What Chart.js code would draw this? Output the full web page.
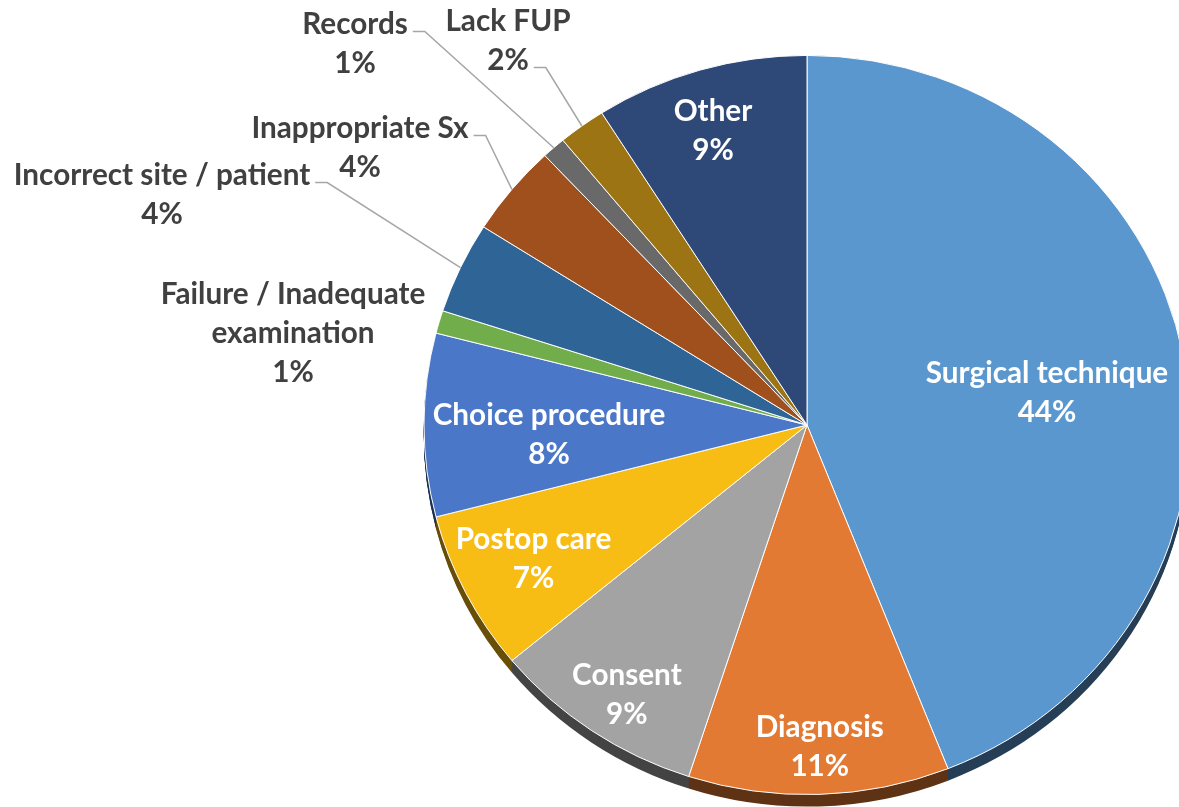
<!DOCTYPE html>
<html>
<head>
<meta charset="utf-8">
<script src="https://cdn.jsdelivr.net/npm/chart.js"></script>
<style>
  html, body { margin: 0; padding: 0; background: #fff; overflow: hidden; }
  #wrap { position: relative; width: 1210px; height: 807px; }
</style>
</head>
<body>
<div id="wrap"><canvas id="pie"></canvas></div>
<script>
// Data
const categories = ['Surgical technique', 'Diagnosis', 'Consent', 'Postop care', 'Choice procedure',
  'Failure / Inadequate\nexamination', 'Incorrect site / patient', 'Inappropriate Sx', 'Records', 'Lack FUP', 'Other'];
const shares = [44, 11, 9, 7, 8, 1, 4, 4, 1, 2, 9];
const sliceColors = ['#5B97CF', '#E27A33', '#A3A3A3', '#F8BD14', '#4A77C7', '#72AD4C',
  '#2F6496', '#A0501C', '#696969', '#9C7413', '#2E4878'];

// Look
const SQUASH = 0.965;   // tilt of the pie face
const DEPTH = 12;       // visible thickness of the 3D side
const FONT_PX = 29.7;
const LINE_H = 39;
const CAP = FONT_PX * 0.7165;

// label placement: inside = [radius fraction, angle tweak in deg]
const insideLayout = {
  0: [0.633, 2.7], 1: [0.869, -0.4], 2: [0.867, -1.35],
  3: [0.80, 0.2], 4: [0.674, -2.1], 10: [0.835, -0.9]
};
// outside = offset of text block from pie centre, hook = line the leader starts from
const outsideLayout = {
  5: { dx: -514, dy: -93, hook: null },
  6: { dx: -645, dy: -231, hook: 0 },
  7: { dx: -447, dy: -278, hook: 0 },
  8: { dx: -452, dy: -382, hook: 0 },
  9: { dx: -299, dy: -385, hook: 1 }
};

function darken(hex, f) {
  const n = parseInt(hex.slice(1), 16);
  const r = Math.round(((n >> 16) & 255) * f);
  const g = Math.round(((n >> 8) & 255) * f);
  const b = Math.round((n & 255) * f);
  return `rgb(${r},${g},${b})`;
}
const sideColors = sliceColors.map(c => darken(c, 0.42));

function squash(ctx, x, y) {
  ctx.translate(x, y);
  ctx.scale(1, SQUASH);
  ctx.translate(-x, -y);
}

function wedge(ctx, p) {
  ctx.beginPath();
  ctx.moveTo(p.x, p.y);
  ctx.arc(p.x, p.y, p.outerRadius, p.startAngle, p.endAngle);
  ctx.closePath();
}

function drawLabels(chart) {
  const ctx = chart.ctx;
  const arcs = chart.getDatasetMeta(0).data;
  ctx.save();
  ctx.font = `bold ${FONT_PX}px Lato, "Open Sans", sans-serif`;
  ctx.textAlign = 'center';
  ctx.textBaseline = 'alphabetic';
  arcs.forEach((arc, i) => {
    const p = arc.getProps(['x', 'y', 'startAngle', 'endAngle', 'outerRadius']);
    const lines = categories[i].split('\n').concat(shares[i] + '%');
    const mid = (p.startAngle + p.endAngle) / 2;
    let cx, cy;
    const out = outsideLayout[i];
    if (insideLayout[i]) {
      const [f, tweak] = insideLayout[i];
      const a = mid + tweak * Math.PI / 180;
      cx = p.x + Math.cos(a) * p.outerRadius * f;
      cy = p.y + Math.sin(a) * p.outerRadius * f * SQUASH;
      ctx.fillStyle = '#ffffff';
    } else {
      cx = p.x + out.dx;
      cy = p.y + out.dy;
      ctx.fillStyle = '#404040';
    }
    const top = cy - (lines.length - 1) * LINE_H / 2;
    lines.forEach((t, k) => ctx.fillText(t, cx, top + k * LINE_H + CAP / 2));

    if (out && out.hook !== null) {
      const ly = top + out.hook * LINE_H + 8;
      const lx = cx + ctx.measureText(lines[out.hook]).width / 2 + 5;
      const ex = p.x + Math.cos(mid) * p.outerRadius;
      const ey = p.y + Math.sin(mid) * p.outerRadius * SQUASH;
      ctx.beginPath();
      ctx.moveTo(lx, ly);
      ctx.lineTo(lx + 12, ly);
      ctx.lineTo(ex, ey);
      ctx.strokeStyle = '#A6A6A6';
      ctx.lineWidth = 1.5;
      ctx.stroke();
    }
  });
  ctx.restore();
}

// tilted face + extruded side
const pie3d = {
  id: 'pie3d',
  beforeDatasetsDraw(chart) {
    const ctx = chart.ctx;
    const arcs = chart.getDatasetMeta(0).data;
    const { x, y } = arcs[0].getProps(['x', 'y']);
    ctx.save();
    for (let d = DEPTH; d > 0; d--) {
      ctx.save();
      ctx.translate(0, d);
      squash(ctx, x, y);
      arcs.forEach((arc, i) => {
        wedge(ctx, arc.getProps(['x', 'y', 'startAngle', 'endAngle', 'outerRadius']));
        ctx.fillStyle = sideColors[i];
        ctx.fill();
      });
      ctx.restore();
    }
    squash(ctx, x, y);
  },
  afterDatasetsDraw(chart) {
    chart.ctx.restore();
    drawLabels(chart);
  }
};

function build() {
  new Chart(document.getElementById('pie'), {
    type: 'pie',
    data: {
      labels: categories,
      datasets: [{
        data: shares,
        backgroundColor: sliceColors,
        borderColor: '#ffffff',
        borderWidth: 1,
        clip: false
      }]
    },
    options: {
      responsive: true,
      maintainAspectRatio: false,
      animation: false,
      radius: 383,
      events: [],
      layout: { padding: { left: 424, right: 20, top: 49, bottom: 6 } },
      plugins: { legend: { display: false }, tooltip: { enabled: false } }
    },
    plugins: [pie3d]
  });
}

document.fonts.load(`bold ${FONT_PX}px Lato`).then(build, build);
</script>
</body>
</html>
